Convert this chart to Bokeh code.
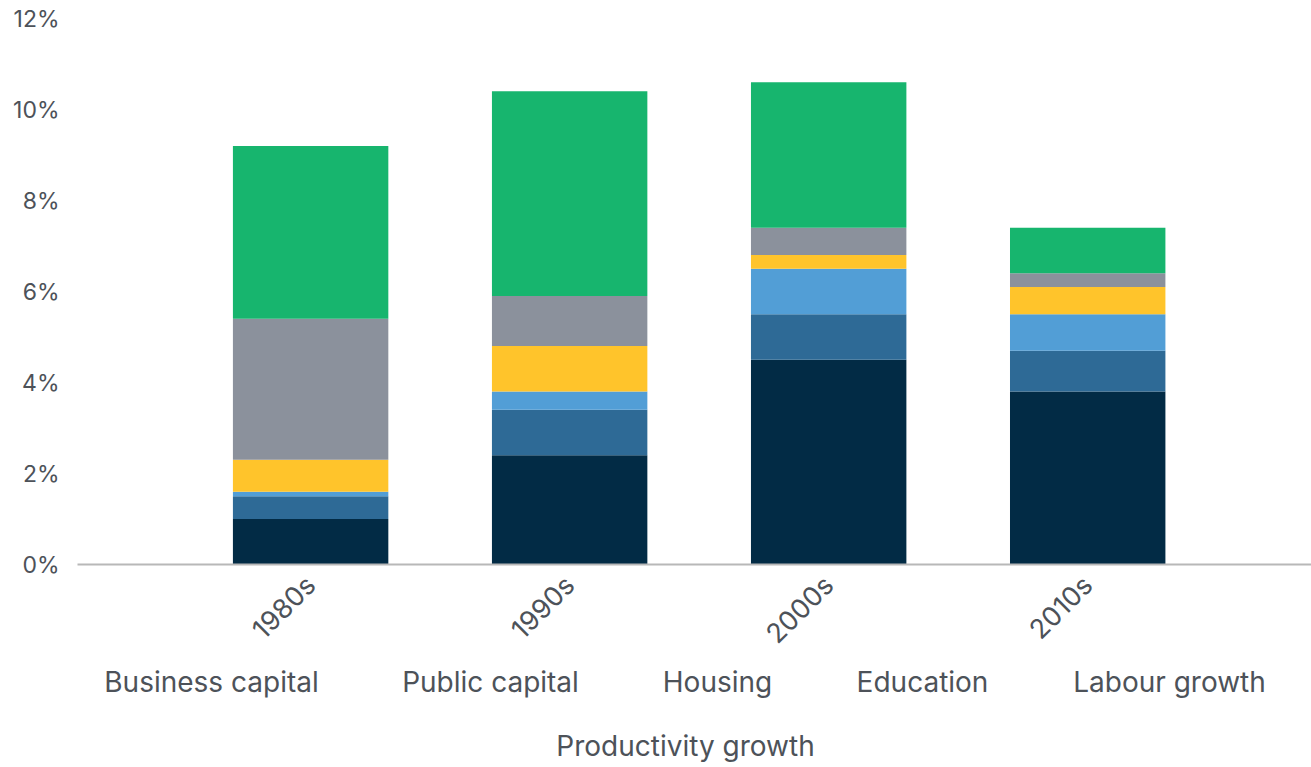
from bokeh.plotting import figure
from bokeh.layouts import column
from bokeh.models import (ColumnDataSource, Range1d, FixedTicker, PrintfTickFormatter)
from bokeh.core.properties import value
from bokeh.embed import file_html
from bokeh.resources import INLINE
import math

decades = ["1980s", "1990s", "2000s", "2010s"]
series = ["Business capital", "Public capital", "Housing", "Education",
          "Labour growth", "Productivity growth"]
business_capital = [1.0, 2.4, 4.5, 3.8]
public_capital = [0.5, 1.0, 1.0, 0.9]
housing = [0.1, 0.4, 1.0, 0.8]
education = [0.7, 1.0, 0.3, 0.6]
labour_growth = [3.1, 1.1, 0.6, 0.3]
productivity_growth = [3.8, 4.5, 3.2, 1.0]
y_ticks = [0, 2, 4, 6, 8, 10, 12]

colors = ["#022b45", "#2e6a96", "#529ed6", "#ffc42b", "#8b919c", "#17b56e"]
keys = ["bc", "pc", "ho", "ed", "lg", "pg"]

xpos = [i + 0.5 for i in range(len(decades))]
src = ColumnDataSource(dict(x=xpos, bc=business_capital, pc=public_capital,
                            ho=housing, ed=education, lg=labour_growth,
                            pg=productivity_growth))

FONT = "Inter"
TXT = "#4d5259"
W = 1311
LEFT = 77
H_MAIN = 666
H_LEG = 767 - H_MAIN

p = figure(width=W, height=H_MAIN, output_backend="svg", toolbar_location=None,
           x_range=Range1d(-0.4, 4.364), y_range=Range1d(0, 12),
           min_border_left=LEFT, min_border_top=18, min_border_right=0,
           min_border_bottom=102)
p.outline_line_color = None
p.xgrid.grid_line_color = None
p.ygrid.grid_line_color = None

rs = p.vbar_stack(keys, x="x", width=0.6, color=colors, source=src, line_width=0)

p.yaxis.ticker = FixedTicker(ticks=y_ticks)
p.yaxis.formatter = PrintfTickFormatter(format="%d%%")
p.yaxis.axis_line_color = None
p.yaxis.major_tick_line_color = None
p.yaxis.minor_tick_line_color = None
p.yaxis.major_label_standoff = 12
p.yaxis.major_label_text_font = FONT
p.yaxis.major_label_text_font_size = "23px"
p.yaxis.major_label_text_color = TXT

p.xaxis.ticker = FixedTicker(ticks=xpos)
p.xaxis.major_label_overrides = {x: d for x, d in zip(xpos, decades)}
p.xaxis.axis_line_color = "#b8b8b8"
p.xaxis.axis_line_width = 2
p.xaxis.major_tick_line_color = None
p.xaxis.minor_tick_line_color = None
p.xaxis.major_label_orientation = math.pi / 4
p.xaxis.major_label_standoff = 10
p.xaxis.major_label_text_font = FONT
p.xaxis.major_label_text_font_size = "27px"
p.xaxis.major_label_text_color = TXT

# legend (text-only entries, as in the reference), drawn in a strip below
leg_x = [211, 490, 717, 922, 1169, 685]
leg_y = [681 - H_MAIN] * 5 + [745 - H_MAIN]
leg_src = ColumnDataSource(dict(label=series, x=leg_x, y=leg_y))

p2 = figure(width=W, height=H_LEG, output_backend="svg", toolbar_location=None,
            x_range=Range1d(LEFT, W), y_range=Range1d(H_LEG, 0),
            x_axis_type=None, y_axis_type=None,
            min_border_left=LEFT, min_border_right=0, min_border_top=0,
            min_border_bottom=0)
p2.outline_line_color = None
p2.grid.visible = False
p2.text(x="x", y="y", text="label", source=leg_src,
        text_font=value(FONT), text_font_size="28px", text_color=TXT,
        text_align="center", text_baseline="middle")

layout = column(p, p2, spacing=0)
open("out.html", "w").write(file_html(layout, INLINE))
